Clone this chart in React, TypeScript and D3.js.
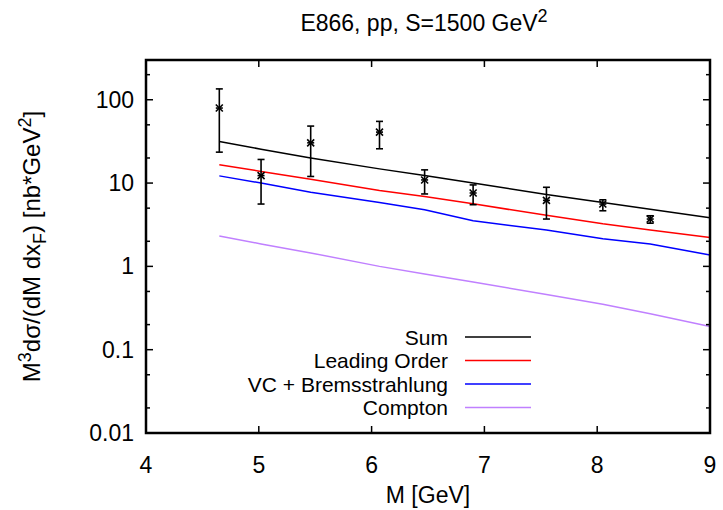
import React from "react";
import * as d3 from "d3";

const massGrid = [4.65, 5.02, 5.46, 6.07, 6.47, 6.9, 7.55, 8.05, 8.47, 9.0];
const sumVals = [31.6, 25.5, 20.0, 14.8, 12.3, 10.0, 7.3, 5.85, 4.85, 3.83];
const loVals = [16.6, 13.8, 11.1, 8.15, 6.9, 5.63, 4.1, 3.24, 2.74, 2.22];
const vcVals = [12.2, 10.0, 7.75, 5.85, 4.78, 3.52, 2.74, 2.14, 1.86, 1.37];
const comptonVals = [2.32, 1.86, 1.45, 1.0, 0.81, 0.65, 0.46, 0.35, 0.27, 0.19];

const dataM = [4.65, 5.02, 5.46, 6.07, 6.47, 6.9, 7.55, 8.05, 8.47];
const dataY = [79.5, 12.3, 30.4, 40.9, 10.9, 7.6, 6.2, 5.6, 3.7];
const dataLow = [23.5, 5.6, 12.0, 25.8, 7.4, 5.5, 3.7, 4.65, 3.3];
const dataHigh = [135, 19.2, 48.3, 55, 14.4, 9.5, 8.9, 6.3, 4.05];

const xTicks = [4, 5, 6, 7, 8, 9];
const yTicks = [0.01, 0.1, 1, 10, 100];
const yTickLabels = ["0.01", "0.1", "1", "10", "100"];
const minorFactors = [2, 5];

const seriesNames = ["Sum", "Leading Order", "VC + Bremsstrahlung", "Compton"];
const seriesColors = ["#000000", "#ff0000", "#0000ff", "#c080ff"];

const W = 723, H = 510;
const L = 146, R = 710, T = 60, B = 433;
const FONT = "'Liberation Sans', Arial, Helvetica, sans-serif";

export default function App() {
  const x = d3.scaleLinear().domain([4, 9]).range([L, R]);
  const y = d3.scaleLog().domain([0.01, 300]).range([B, T]);
  const line = d3
    .line<[number, number]>()
    .x((d) => x(d[0]))
    .y((d) => y(d[1]));
  const series = [sumVals, loVals, vcVals, comptonVals];

  const minorTicks: number[] = [];
  for (let e = -2; e <= 2; e++) {
    for (const f of minorFactors) {
      const v = f * Math.pow(10, e);
      if (v < 300) minorTicks.push(v);
    }
  }

  const fs = 23;
  const sup = 18;
  const majLen = 7;
  const minLen = 4;

  return (
    <svg
      width={W}
      height={H}
      style={{ position: "absolute", left: 0, top: 0, background: "#fff" }}
      fontFamily={FONT}
    >
      <rect x={0} y={0} width={W} height={H} fill="#fff" />
      {/* title */}
      <text x={424} y={31} textAnchor="middle" fontSize={fs}>
        E866, pp, S=1500 GeV
        <tspan dy={-9} fontSize={sup}>2</tspan>
      </text>

      {/* series lines */}
      {series.map((vals, i) => (
        <path
          key={i}
          d={line(massGrid.map((m, j) => [m, vals[j]] as [number, number])) || ""}
          fill="none"
          stroke={seriesColors[i]}
          strokeWidth={1.5}
        />
      ))}

      {/* data points with error bars */}
      {dataM.map((m, i) => {
        const cx = x(m);
        const cy = y(dataY[i]);
        const y1 = y(dataHigh[i]);
        const y2 = y(dataLow[i]);
        const c = 3.5;
        const s = 3.5;
        return (
          <g key={i} stroke="#000" strokeWidth={1.6} fill="none">
            <line x1={cx} x2={cx} y1={y1} y2={y2} />
            <line x1={cx - c} x2={cx + c} y1={y1} y2={y1} />
            <line x1={cx - c} x2={cx + c} y1={y2} y2={y2} />
            <line x1={cx - s} x2={cx + s} y1={cy} y2={cy} />
            <line x1={cx - s} x2={cx + s} y1={cy - s} y2={cy + s} />
            <line x1={cx - s} x2={cx + s} y1={cy + s} y2={cy - s} />
          </g>
        );
      })}

      {/* ticks */}
      <g stroke="#000" strokeWidth={1.5}>
        {xTicks.map((t) => (
          <g key={"xt" + t}>
            <line x1={x(t)} x2={x(t)} y1={B} y2={B - majLen} />
            <line x1={x(t)} x2={x(t)} y1={T} y2={T + majLen} />
          </g>
        ))}
        {yTicks.map((t) => (
          <g key={"yt" + t}>
            <line x1={L} x2={L + majLen} y1={y(t)} y2={y(t)} />
            <line x1={R} x2={R - majLen} y1={y(t)} y2={y(t)} />
          </g>
        ))}
        {minorTicks.map((t) => (
          <g key={"ym" + t}>
            <line x1={L} x2={L + minLen} y1={y(t)} y2={y(t)} />
            <line x1={R} x2={R - minLen} y1={y(t)} y2={y(t)} />
          </g>
        ))}
      </g>

      {/* frame */}
      <rect x={L} y={T} width={R - L} height={B - T} fill="none" stroke="#000" strokeWidth={2.5} />

      {/* tick labels */}
      {xTicks.map((t) => (
        <text key={"xl" + t} x={x(t)} y={B + 40} textAnchor="middle" fontSize={fs}>
          {t}
        </text>
      ))}
      {yTicks.map((t, i) => (
        <text
          key={"yl" + t}
          x={L - 12}
          y={y(t)}
          textAnchor="end"
          dominantBaseline="central"
          fontSize={fs}
        >
          {yTickLabels[i]}
        </text>
      ))}

      {/* axis labels */}
      <text x={428} y={503} textAnchor="middle" fontSize={fs}>
        M [GeV]
      </text>
      <text
        transform={`translate(40,${(T + B) / 2}) rotate(-90)`}
        textAnchor="middle"
        fontSize={24}
      >
        M<tspan dy={-9} fontSize={sup}>3</tspan>
        <tspan dy={9}>dσ/(dM dx</tspan>
        <tspan dy={6} fontSize={sup}>F</tspan>
        <tspan dy={-6}>) [nb*GeV</tspan>
        <tspan dy={-9} fontSize={sup}>2</tspan>
        <tspan dy={9}>]</tspan>
      </text>

      {/* legend */}
      {seriesNames.map((n, i) => {
        const ly = 337 + i * 23.5;
        return (
          <g key={"lg" + n}>
            <text x={448} y={ly} textAnchor="end" dominantBaseline="central" fontSize={21}>
              {n}
            </text>
            <line x1={465} x2={531} y1={ly} y2={ly} stroke={seriesColors[i]} strokeWidth={1.5} />
          </g>
        );
      })}
    </svg>
  );
}
